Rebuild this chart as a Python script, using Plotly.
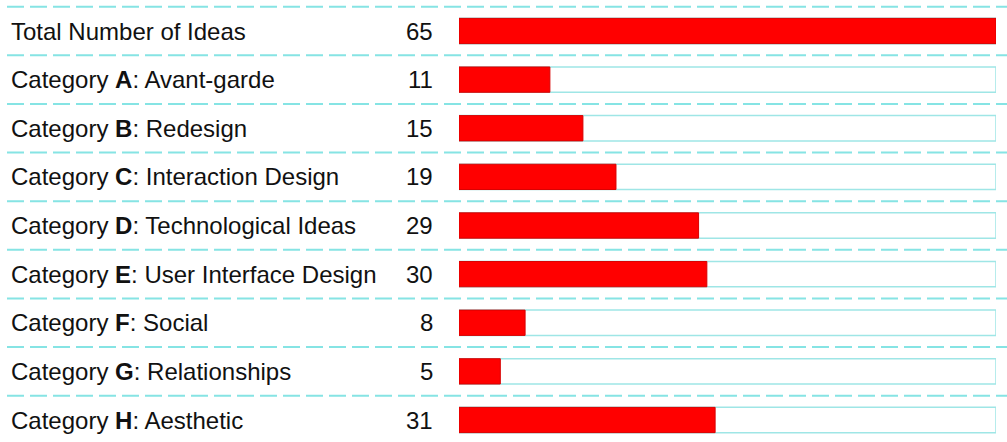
import plotly.graph_objects as go

labels = [
    "Total Number of Ideas",
    "Category <b>A</b>: Avant-garde",
    "Category <b>B</b>: Redesign",
    "Category <b>C</b>: Interaction Design",
    "Category <b>D</b>: Technological Ideas",
    "Category <b>E</b>: User Interface Design",
    "Category <b>F</b>: Social",
    "Category <b>G</b>: Relationships",
    "Category <b>H</b>: Aesthetic",
]
values = [65, 11, 15, 19, 29, 30, 8, 5, 31]
total = 65

W, H = 1007, 442
row_top = 31.0
row_step = 48.625
idx = list(range(len(labels)))

fig = go.Figure()
# background boxes
fig.add_trace(go.Bar(
    x=[total] * len(idx), y=idx, orientation="h", width=0.52,
    marker=dict(color="rgba(255,255,255,0)", line=dict(color="#9fe6e6", width=1.5)),
    hoverinfo="skip", showlegend=False,
))
# value bars
fig.add_trace(go.Bar(
    x=values, y=idx, orientation="h", width=0.52,
    marker=dict(color="#ff0000", line=dict(color="#d80000", width=1)),
    showlegend=False,
))

font = dict(family="Liberation Sans, Arial, sans-serif", size=24, color="#111111")
ann = []
for i, (lab, v) in enumerate(zip(labels, values)):
    ann.append(dict(x=9 / W, xref="paper", y=i, yref="y", text=lab, showarrow=False,
                    xanchor="left", yanchor="middle", font=font))
    ann.append(dict(x=435 / W, xref="paper", y=i, yref="y", text=str(v), showarrow=False,
                    xanchor="right", yanchor="middle", font=font))

shapes = []
for i in idx:
    shapes.append(dict(type="line", xref="paper", yref="y", x0=7 / W, x1=1, y0=i - 0.5, y1=i - 0.5,
                       line=dict(color="#86e4e4", width=2, dash="17px,6px"), layer="below"))

y_lo = -row_top / row_step
y_hi = (H - row_top) / row_step
fig.update_layout(
    width=W, height=H, margin=dict(l=0, r=0, t=0, b=0),
    paper_bgcolor="white", plot_bgcolor="white",
    barmode="overlay",
    xaxis=dict(domain=[459 / W, 996 / W], range=[0, total], visible=False, fixedrange=True),
    yaxis=dict(range=[y_hi, y_lo], visible=False, fixedrange=True),
    annotations=ann, shapes=shapes,
)
fig.write_html("out.html")
